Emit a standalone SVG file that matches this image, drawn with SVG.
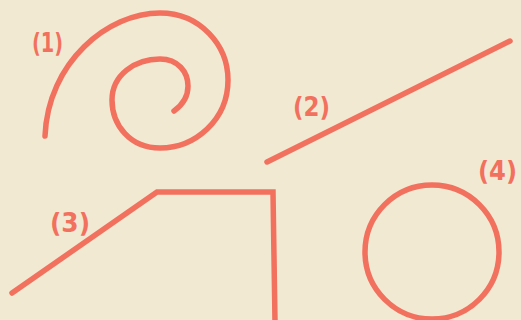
<svg xmlns="http://www.w3.org/2000/svg" width="521" height="320" viewBox="0 0 521 320">
<style>
.s{fill:none;stroke:#f2705e;stroke-width:5.5;stroke-linecap:round;stroke-linejoin:miter}
.t{font-family:"DejaVu Sans Condensed","DejaVu Sans",sans-serif;font-size:27px;font-weight:bold;fill:#f2705e}
</style>
<rect width="521" height="320" fill="#f2e9d2"/>
<g id="spiral">
<path class="s" d="M45,136 C48,62 108,13 160,13 C200,13 228,45 228,80 C228,120 195,148 160,148 C130,148 112,125 112,100 C112,75 135,59 160,59 C178,59 188,72 188,86 C188,98 181,106 174,111"/>
<text class="t" x="32" y="52" textLength="31" lengthAdjust="spacingAndGlyphs">(1)</text>
</g>
<g id="line">
<line class="s" x1="267" y1="162" x2="510" y2="41"/>
<text class="t" x="293" y="116" textLength="37" lengthAdjust="spacingAndGlyphs">(2)</text>
</g>
<g id="polyline">
<polyline class="s" points="12,293 157,192 273,192 275,322"/>
<text class="t" x="50" y="232" textLength="40" lengthAdjust="spacingAndGlyphs">(3)</text>
</g>
<g id="circle">
<circle class="s" cx="432" cy="252" r="67"/>
<text class="t" x="478" y="180" textLength="39" lengthAdjust="spacingAndGlyphs">(4)</text>
</g>
</svg>
